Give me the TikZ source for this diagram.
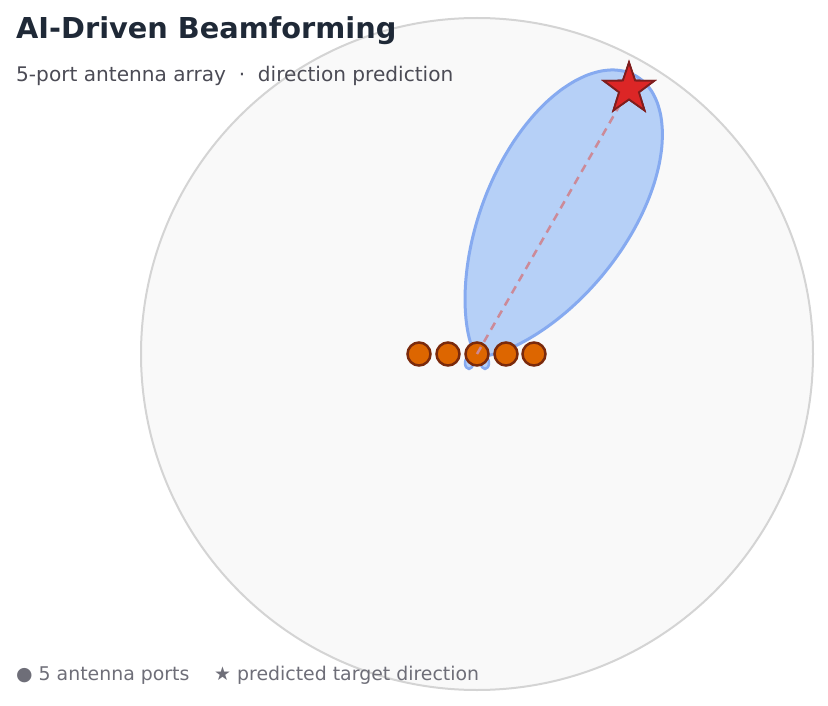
\documentclass[tikz,border=0pt]{standalone}
\usepackage{fontspec}
\setmainfont{DejaVu Sans}
\usetikzlibrary{shapes.geometric}
\definecolor{titlec}{HTML}{1F2937}
\definecolor{subc}{HTML}{4B4B55}
\definecolor{legc}{HTML}{6E6E78}
\definecolor{diskfill}{HTML}{F9F9F9}
\definecolor{diskline}{HTML}{D4D4D4}
\definecolor{lobefill}{HTML}{B6D0F7}
\definecolor{lobeline}{HTML}{86AAF0}
\definecolor{antfill}{HTML}{DD6600}
\definecolor{antline}{HTML}{7A2A0C}
\definecolor{starfill}{HTML}{DC2626}
\definecolor{starline}{HTML}{7F1D1D}
\definecolor{dashc}{HTML}{CC8A98}
\tikzset{
  antenna/.style={circle, draw=antline, fill=antfill, line width=2.5pt, minimum size=23pt, inner sep=0pt},
  target/.style={star, star points=5, star point ratio=2.55, draw=starline, fill=starfill, line width=1.8pt, minimum size=53pt, inner sep=0pt},
  lobe/.style={draw=lobeline, fill=lobefill, line width=3pt, line join=round},
  aim/.style={draw=dashc, line width=2.5pt, dash pattern=on 8pt off 6pt},
  txt/.style={inner sep=0pt, anchor=base west}
}
\begin{document}
\begin{tikzpicture}[x=1pt,y=-1pt]
\useasboundingbox (0,0) rectangle (828,706);
% background disk
\draw[fill=diskfill, draw=diskline, line width=2pt] (477,354) circle (336);
% small side lobes
\draw[lobe, line width=2.5pt] (469,363) ellipse [x radius=4, y radius=6];
\draw[lobe, line width=2.5pt] (485,363) ellipse [x radius=4, y radius=6];
% main lobe
\draw[lobe] plot[smooth, domain=-80:80, samples=81, variable=\t]
  ({477 + 322*exp(-((\t)*(\t))/1000)*cos(60.5+\t)}, {356 - 322*exp(-((\t)*(\t))/1000)*sin(60.5+\t)}) -- cycle;
% antennas
\node[antenna] (a1) at (419,354) {};
\node[antenna] (a2) at (448,354) {};
\node[antenna] (a3) at (477,354) {};
\node[antenna] (a4) at (506,354) {};
\node[antenna] (a5) at (534,354) {};
% target
\node[target] (tgt) at (629,89) {};
\draw[aim] (a3.center) -- (tgt.center);
\node[target] at (tgt.center) {};
% texts
\node[txt, text=titlec, font=\bfseries\fontsize{28.8}{34}\selectfont] (title) at (16,39) {AI-Driven Beamforming};
\node[txt, text=subc, font=\fontsize{20.1}{24}\selectfont] (sub) at (16,82) {5-port antenna array\ \ ·\ \ direction prediction};
\node[txt, text=legc, font=\fontsize{18.9}{22}\selectfont] (leg1) at (16,680) {● 5 antenna ports};
\node[txt, text=legc, font=\fontsize{18.9}{22}\selectfont] (leg2) at (214,680) {★ predicted target direction};
\end{tikzpicture}
\end{document}
